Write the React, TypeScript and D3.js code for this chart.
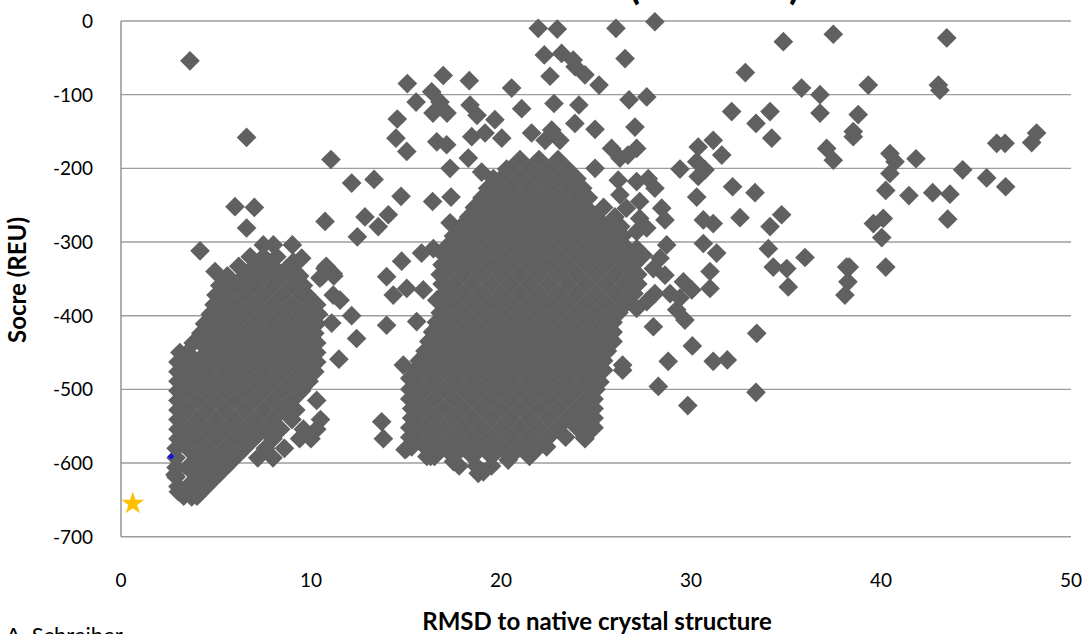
import React from 'react';
import * as d3 from 'd3';

const W = 1089;
const H = 634;

const xTicks = [0, 10, 20, 30, 40, 50];
const yTicks = [0, -100, -200, -300, -400, -500, -600, -700];

// Dense low-RMSD funnel (~3-11 Å): rows of [score, rmsd values]
const clusterLowRows: [number, number[]][] = [
  [-645, [3.3, 4.0]],
  [-632, [3.0, 3.5, 4.5]],
  [-619, [2.9, 4.0, 5.0]],
  [-606, [2.9, 3.5, 4.5, 5.5]],
  [-593, [2.9, 4.0, 5.0, 6.0, 7.2, 8.0]],
  [-580, [2.9, 3.5, 4.5, 5.5, 6.5, 7.6, 8.6]],
  [-567, [3.0, 4.0, 5.0, 6.0, 7.0, 8.0, 9.4, 10.0]],
  [-554, [3.0, 3.5, 4.5, 5.5, 6.5, 7.5, 8.4, 9.6, 10.3]],
  [-541, [3.0, 4.0, 5.0, 6.0, 7.0, 8.0, 9.0, 10.5]],
  [-528, [3.0, 3.5, 4.5, 5.5, 6.5, 7.5, 8.5, 9.2]],
  [-515, [3.0, 4.0, 5.0, 6.0, 7.0, 8.0, 9.0, 10.3]],
  [-502, [3.0, 3.5, 4.5, 5.5, 6.5, 7.5, 8.5, 9.5]],
  [-489, [3.0, 4.0, 5.0, 6.0, 7.0, 8.0, 9.0, 9.9]],
  [-476, [3.0, 3.5, 4.5, 5.5, 6.5, 7.5, 8.5, 9.5, 10.2]],
  [-463, [3.0, 4.0, 5.0, 6.0, 7.0, 8.0, 9.0, 10.0, 10.3]],
  [-450, [3.1, 3.5, 4.5, 5.5, 6.5, 7.5, 8.5, 9.5, 10.3]],
  [-437, [3.8, 4.2, 5.0, 6.0, 7.0, 8.0, 9.0, 10.0, 10.3]],
  [-424, [4.2, 4.5, 5.5, 6.5, 7.5, 8.5, 9.5, 10.2]],
  [-411, [4.4, 5.0, 6.0, 7.0, 8.0, 9.0, 10.0, 10.3]],
  [-398, [4.7, 5.5, 6.5, 7.5, 8.5, 9.5, 10.4]],
  [-385, [4.9, 5.2, 6.0, 7.0, 8.0, 9.0, 10.0, 10.3]],
  [-372, [5.0, 5.5, 6.5, 7.5, 8.5, 9.5, 9.8]],
  [-359, [5.2, 6.0, 7.0, 8.0, 9.0, 9.6]],
  [-346, [5.6, 6.5, 7.5, 8.5, 9.4, 10.6, 11.2]],
  [-333, [6.2, 7.0, 8.0, 9.0, 10.8]],
  [-320, [6.8, 7.5, 8.2]],
];

// Dense mid-RMSD cluster (~15-27 Å)
const clusterMidRows: [number, number[]][] = [
  [-604, [17.8, 18.7, 19.5]],
  [-591, [16.3, 16.5, 17.5, 18.5, 19.5, 20.5, 21.5]],
  [-578, [15.3, 16.0, 17.0, 18.0, 19.0, 20.0, 21.0, 22.0, 22.4]],
  [-565, [15.2, 15.5, 16.5, 17.5, 18.5, 19.5, 20.5, 21.5, 22.5, 23.4, 24.4]],
  [-552, [15.2, 16.0, 17.0, 18.0, 19.0, 20.0, 21.0, 22.0, 23.0, 24.0, 24.9]],
  [-539, [15.3, 15.5, 16.5, 17.5, 18.5, 19.5, 20.5, 21.5, 22.5, 23.5, 24.5, 24.9]],
  [-526, [15.3, 16.0, 17.0, 18.0, 19.0, 20.0, 21.0, 22.0, 23.0, 24.0, 24.9]],
  [-513, [15.2, 15.5, 16.5, 17.5, 18.5, 19.5, 20.5, 21.5, 22.5, 23.5, 24.5, 24.9]],
  [-500, [15.2, 16.0, 17.0, 18.0, 19.0, 20.0, 21.0, 22.0, 23.0, 24.0, 25.0]],
  [-487, [15.3, 15.5, 16.5, 17.5, 18.5, 19.5, 20.5, 21.5, 22.5, 23.5, 24.5, 25.0]],
  [-474, [15.5, 16.0, 17.0, 18.0, 19.0, 20.0, 21.0, 22.0, 23.0, 24.0, 25.0, 25.4, 26.4]],
  [-461, [15.7, 16.5, 17.5, 18.5, 19.5, 20.5, 21.5, 22.5, 23.5, 24.5, 25.4]],
  [-448, [16.0, 17.0, 18.0, 19.0, 20.0, 21.0, 22.0, 23.0, 24.0, 25.0, 25.6]],
  [-435, [16.2, 16.5, 17.5, 18.5, 19.5, 20.5, 21.5, 22.5, 23.5, 24.5, 25.5, 25.9]],
  [-422, [16.4, 17.0, 18.0, 19.0, 20.0, 21.0, 22.0, 23.0, 24.0, 25.0, 25.9]],
  [-409, [16.6, 17.5, 18.5, 19.5, 20.5, 21.5, 22.5, 23.5, 24.5, 25.5, 25.9]],
  [-396, [16.8, 17.0, 18.0, 19.0, 20.0, 21.0, 22.0, 23.0, 24.0, 25.0, 26.0, 26.2]],
  [-383, [17.0, 17.5, 18.5, 19.5, 20.5, 21.5, 22.5, 23.5, 24.5, 25.5, 26.5, 26.6]],
  [-370, [17.0, 18.0, 19.0, 20.0, 21.0, 22.0, 23.0, 24.0, 25.0, 26.0, 27.0]],
  [-357, [16.9, 17.5, 18.5, 19.5, 20.5, 21.5, 22.5, 23.5, 24.5, 25.5, 26.5, 27.2]],
  [-344, [16.8, 17.0, 18.0, 19.0, 20.0, 21.0, 22.0, 23.0, 24.0, 25.0, 26.0, 27.0, 27.2]],
  [-331, [16.9, 17.5, 18.5, 19.5, 20.5, 21.5, 22.5, 23.5, 24.5, 25.5, 26.5, 27.0]],
  [-318, [17.0, 18.0, 19.0, 20.0, 21.0, 22.0, 23.0, 24.0, 25.0, 26.0, 26.8]],
  [-305, [17.2, 17.5, 18.5, 19.5, 20.5, 21.5, 22.5, 23.5, 24.5, 25.5, 26.5]],
  [-292, [17.5, 18.0, 19.0, 20.0, 21.0, 22.0, 23.0, 24.0, 25.0, 26.0, 26.4]],
  [-279, [17.9, 18.5, 19.5, 20.5, 21.5, 22.5, 23.5, 24.5, 25.5, 26.3]],
  [-266, [18.3, 19.0, 20.0, 21.0, 22.0, 23.0, 24.0, 25.0, 26.0]],
  [-253, [18.6, 19.5, 20.5, 21.5, 22.5, 23.5, 24.5, 25.4]],
  [-240, [19.0, 20.0, 21.0, 22.0, 23.0, 24.0, 24.6]],
  [-227, [19.3, 19.5, 20.5, 21.5, 22.5, 23.5, 24.3]],
  [-214, [19.6, 20.0, 21.0, 22.0, 23.0, 24.0]],
  [-201, [20.3, 20.5, 21.5, 22.5, 23.5]],
  [-188, [21.0, 22.0, 23.0]],
];

// Individual decoys outside the dense regions: [rmsd, score]
const scatteredDecoys: [number, number][] = [
  [3.63, -54], [6.61, -158], [11.05, -188], [12.14, -220], [13.32, -215], [14.74, -238],
  [15.07, -85], [16.96, -74], [18.33, -81], [15.53, -110], [16.35, -96], [16.79, -110], [16.42, -125], [17.16, -125], [18.37, -114], [18.74, -128],
  [14.54, -133], [14.47, -159], [15.04, -177], [16.62, -164], [17.14, -168], [18.46, -157], [19.16, -152], [17.32, -200], [18.28, -186], [18.98, -205],
  [6.0, -252], [7.02, -253], [6.61, -281], [10.74, -272], [12.84, -266], [14.07, -263], [13.54, -279], [12.44, -293], [16.4, -245], [17.37, -239],
  [4.16, -312], [4.95, -340], [7.49, -304], [8.02, -304], [9.02, -304], [14.77, -326], [13.98, -347], [18.54, -261], [17.32, -274], [17.84, -281],
  [7.49, -336], [8.19, -340], [9.07, -327], [9.51, -322], [8.72, -336], [7.14, -349], [6.61, -354], [10.74, -336], [11.17, -343], [10.47, -349],
  [11.17, -372], [11.53, -379],
  [21.96, -10], [22.96, -11], [26.05, -10], [28.1, -1], [34.86, -28], [37.49, -18],
  [22.28, -46], [23.19, -44], [23.8, -53], [23.9, -62], [24.42, -73], [25.16, -87], [26.53, -51], [22.58, -75], [20.56, -91], [32.86, -70], [35.82, -91], [36.79, -100], [36.79, -125],
  [26.74, -107], [27.67, -103], [22.79, -112], [24.1, -114], [21.09, -119], [19.68, -134], [32.14, -123], [34.16, -123], [33.42, -139], [34.25, -159],
  [23.89, -139], [24.95, -147], [27.05, -144], [21.61, -152], [22.67, -148], [23.1, -162], [22.32, -162], [20.04, -159], [37.14, -173], [37.49, -189],
  [25.82, -173], [26.26, -186], [27.14, -173], [26.68, -182], [30.38, -171], [31.17, -162], [31.62, -182], [30.3, -191], [30.74, -202], [30.38, -211],
  [29.42, -201], [24.95, -200], [23.63, -216], [32.19, -225], [33.37, -233], [30.3, -239], [32.58, -267], [34.77, -263], [34.16, -279], [31.17, -275], [30.65, -270],
  [30.65, -302], [31.35, -315], [34.07, -309], [36.0, -321], [34.33, -334], [35.04, -336], [31.0, -340], [38.19, -334],
  [43.46, -23], [39.33, -87], [43.02, -87], [43.1, -94], [38.8, -127], [38.54, -150], [38.54, -157], [46.09, -166], [46.53, -166], [48.19, -152], [47.93, -165],
  [40.47, -180], [40.74, -191], [40.47, -207], [41.84, -187], [44.3, -202], [45.56, -213], [46.56, -225], [40.25, -230], [41.47, -237], [42.72, -233], [43.63, -235],
  [43.51, -269], [40.12, -268], [39.6, -275], [40.04, -294], [38.33, -334], [40.25, -334], [38.26, -354],
  [35.12, -361], [38.1, -372], [33.46, -424], [33.42, -504], [29.83, -522], [28.8, -462], [28.28, -496], [28.02, -415], [30.07, -441], [31.17, -462], [31.91, -460], [26.4, -467],
  [28.1, -370], [28.9, -370], [29.42, -376], [30.04, -365], [31.0, -363], [29.25, -392], [29.68, -406], [26.96, -347], [27.67, -381], [27.14, -390],
  [24.42, -567], [21.53, -589], [20.38, -596], [19.07, -612], [24.68, -539], [23.72, -539], [25.21, -490], [25.82, -424],
  [12.4, -431], [11.47, -459], [12.14, -400], [11.09, -410], [13.98, -413], [15.56, -408], [13.72, -544], [13.81, -567], [14.95, -582],
  [14.33, -372], [15.04, -363], [15.91, -365], [16.62, -379], [17.32, -372], [14.86, -467], [15.2, -485], [16.44, -447],
  [16.1, -591], [17.5, -598], [18.8, -614], [15.04, -580],
  [26.17, -216], [27.14, -218], [27.75, -214], [28.1, -227], [28.46, -254], [28.63, -270], [27.3, -245], [26.6, -254], [26.26, -236], [27.3, -268], [27.67, -281], [27.14, -286],
  [28.72, -304], [28.37, -322], [28.02, -336], [28.63, -345], [27.49, -318], [27.14, -309], [29.6, -354],
  [15.82, -315], [16.44, -309], [17.32, -306], [18.02, -297], [18.54, -315], [17.84, -324],
  [3.72, -646], [3.02, -639], [2.84, -616],
];

const nativeStar: [number, number] = [0.62, -655];
const relaxedNative: [number, number] = [2.63, -591];

const titleParens = ['(', ')'];
const xAxisTitle = 'RMSD to native crystal structure';
const yAxisTitle = 'Socre (REU)';
const credit = 'A. Schreiber';

const x = d3.scaleLinear().domain([0, 50]).range([121, 1071]);
const y = d3.scaleLinear().domain([-700, 0]).range([536.7, 21]);

const diamondPath = d3.symbol(d3.symbolSquare, 194)() as string;
const smallDiamondPath = d3.symbol(d3.symbolSquare, 22)() as string;
const starPath = d3.symbol(d3.symbolStar, 165)() as string;

const FONT = "Lato, 'Open Sans', 'DejaVu Sans', sans-serif";

export default function App() {
  const allPoints: [number, number][] = [];
  clusterLowRows.forEach(([s, xs]) => xs.forEach((r) => allPoints.push([r, s])));
  clusterMidRows.forEach(([s, xs]) => xs.forEach((r) => allPoints.push([r, s])));
  scatteredDecoys.forEach((p) => allPoints.push(p));

  return (
    <svg
      width={W}
      height={H}
      style={{ position: 'absolute', left: 0, top: 0, background: '#fff' }}
      fontFamily={FONT}
    >
      <rect x={0} y={0} width={W} height={H} fill="#fff" />
      {/* gridlines */}
      {yTicks.map((t) => (
        <line key={t} x1={x(0)} x2={x(50)} y1={y(t)} y2={y(t)} stroke="#9d9d9d" strokeWidth={1.4} />
      ))}
      <line x1={x(0)} x2={x(0)} y1={y(0)} y2={y(-700)} stroke="#8c8c8c" strokeWidth={1.4} />

      {/* title (mostly outside the frame) */}
      <text x={629} y={-1} fontSize={40} fontWeight="bold" fill="#000">{titleParens[0]}</text>
      <text x={789} y={-1} fontSize={40} fontWeight="bold" fill="#000">{titleParens[1]}</text>

      {/* decoys */}
      <g fill="#606060">
        {allPoints.map(([r, s], i) => (
          <path key={i} d={diamondPath} transform={`translate(${x(r)},${y(s)}) rotate(45)`} />
        ))}
      </g>
      <path d={smallDiamondPath} fill="#1010e0" transform={`translate(${x(relaxedNative[0])},${y(relaxedNative[1])}) rotate(45)`} />
      <path d={starPath} fill="#ffc000" transform={`translate(${x(nativeStar[0])},${y(nativeStar[1])})`} />

      {/* y tick labels */}
      {yTicks.map((t) => (
        <text key={t} x={93} y={y(t)} dy="0.36em" textAnchor="end" fontSize={19} fill="#000">
          {t}
        </text>
      ))}
      {/* x tick labels */}
      {xTicks.map((t) => (
        <text key={t} x={x(t)} y={587} textAnchor="middle" fontSize={19} fill="#000">
          {t}
        </text>
      ))}

      <text x={597} y={630} textAnchor="middle" fontSize={24} fontWeight="bold" fill="#000">
        {xAxisTitle}
      </text>
      <text
        transform={`translate(26,280) rotate(-90)`}
        textAnchor="middle"
        fontSize={24}
        fontWeight="bold"
        fill="#000"
      >
        {yAxisTitle}
      </text>
      <text x={6} y={643} fontSize={22} fill="#000">{credit}</text>
    </svg>
  );
}
